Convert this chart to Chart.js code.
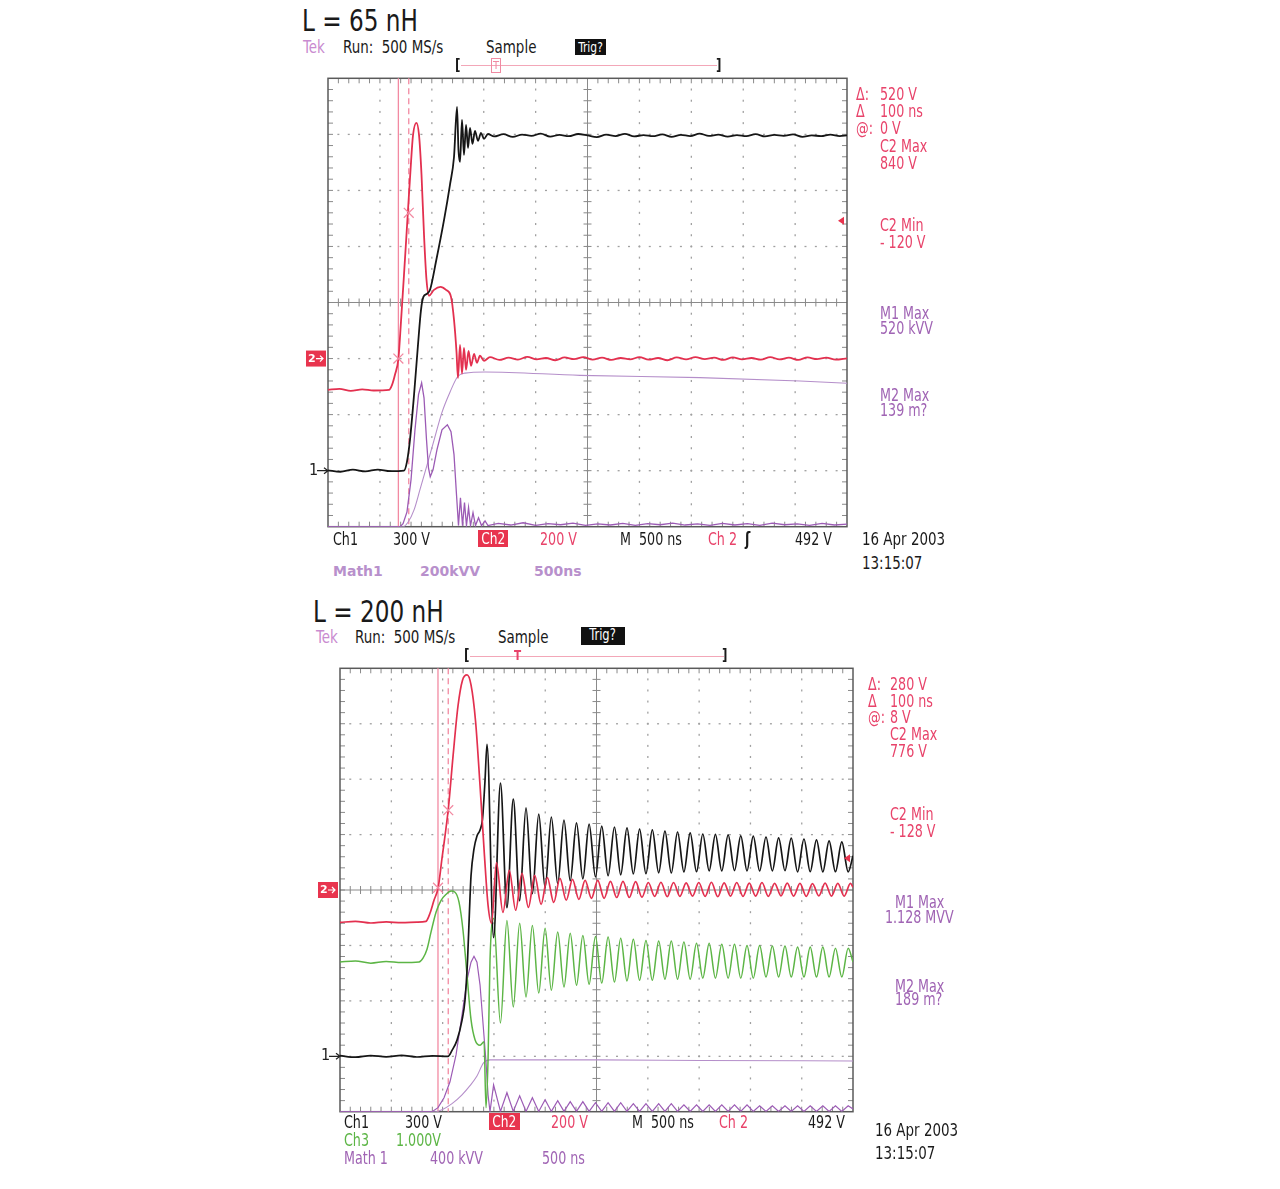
<!DOCTYPE html>
<html><head><meta charset="utf-8">
<script src="https://cdn.jsdelivr.net/npm/chart.js@4.4.0/dist/chart.umd.min.js"></script>
<style>
body{margin:0;background:#fff;width:1280px;height:1189px;position:relative;overflow:hidden;font-family:'Liberation Sans Narrow','DejaVu Sans Condensed',sans-serif;color:#1a1a1a;}
.t{position:absolute;white-space:pre;line-height:1;font-size:17px;transform:scaleX(0.83);transform-origin:0 0;}
.s18{font-size:18px}.s31{font-size:31px}
.r{color:#e8436a}.p{color:#a064b4}.g{color:#5cb545}.tek{color:#c98bd0}
.t.m{font-family:'DejaVu Sans',sans-serif;font-weight:bold;font-size:14px;color:#b890cc;transform:none}
.box{position:absolute;color:#fff;text-align:center;line-height:1;}
.box span{display:inline-block;transform:scaleX(0.85);}
canvas{position:absolute;}
</style></head><body>
<canvas id="c1" width="560" height="465" style="left:300px;top:70px"></canvas>
<canvas id="c2" width="560" height="460" style="left:312px;top:660px"></canvas>

<!-- top scope texts -->
<span class="t s31" style="left:302px;top:5px">L = 65 nH</span>
<span class="t s18 tek" style="left:303px;top:38px">Tek</span>
<span class="t s18" style="left:343px;top:38px">Run:  500 MS/s</span>
<span class="t s18" style="left:486px;top:38px">Sample</span>
<div class="box" style="left:575px;top:39px;width:31px;height:15px;background:#111;font-size:14px;padding-top:1px"><span>Trig?</span></div>
<span class="t" style="left:455px;top:57px;font-size:16px;font-weight:bold">[</span>
<div style="position:absolute;left:461px;top:65px;width:256px;height:1px;background:#f3a7b8"></div>
<span class="t" style="left:716px;top:57px;font-size:16px;font-weight:bold">]</span>
<div style="position:absolute;left:491px;top:58px;width:8px;height:13px;border:1px solid #f08aa2;color:#f08aa2;font-size:11px;text-align:center;line-height:13px">T</div>

<span class="t" style="left:333px;top:531px">Ch1</span>
<span class="t" style="left:393px;top:531px">300 V</span>
<div class="box" style="left:478px;top:530px;width:30px;height:16px;background:#e8344e;font-size:16px;padding-top:1px"><span>Ch2</span></div>
<span class="t r" style="left:540px;top:531px">200 V</span>
<span class="t" style="left:620px;top:531px">M  500 ns</span>
<span class="t r" style="left:708px;top:531px">Ch 2</span>
<span class="t" style="left:745px;top:531px;font-weight:bold">ʃ</span>
<span class="t" style="left:795px;top:531px">492 V</span>
<span class="t s18" style="left:862px;top:530px">16 Apr 2003</span>
<span class="t s18" style="left:862px;top:554px">13:15:07</span>
<span class="t m" style="left:333px;top:564px">Math1</span>
<span class="t m" style="left:420px;top:564px">200kVV</span>
<span class="t m" style="left:534px;top:564px">500ns</span>

<span class="t r" style="left:856px;top:86px">Δ:</span><span class="t r" style="left:880px;top:86px">520 V</span>
<span class="t r" style="left:856px;top:103px">Δ</span><span class="t r" style="left:880px;top:103px">100 ns</span>
<span class="t r" style="left:856px;top:120px">@:</span><span class="t r" style="left:880px;top:120px">0 V</span>
<span class="t r" style="left:880px;top:138px">C2 Max</span>
<span class="t r" style="left:880px;top:155px">840 V</span>
<span class="t r" style="left:880px;top:217px">C2 Min</span>
<span class="t r" style="left:880px;top:234px">- 120 V</span>
<span class="t p" style="left:880px;top:305px">M1 Max</span>
<span class="t p" style="left:880px;top:320px">520 kVV</span>
<span class="t p" style="left:880px;top:387px">M2 Max</span>
<span class="t p" style="left:880px;top:402px">139 m?</span>

<!-- bottom scope texts -->
<span class="t s31" style="left:313px;top:596px">L = 200 nH</span>
<span class="t s18 tek" style="left:316px;top:628px">Tek</span>
<span class="t s18" style="left:355px;top:628px">Run:  500 MS/s</span>
<span class="t s18" style="left:498px;top:628px">Sample</span>
<div class="box" style="left:581px;top:627px;width:44px;height:17px;background:#111;font-size:15px;padding-top:1px"><span>Trig?</span></div>
<span class="t" style="left:464px;top:647px;font-size:16px;font-weight:bold">[</span>
<div style="position:absolute;left:470px;top:656px;width:254px;height:1px;background:#f3a7b8"></div>
<span class="t" style="left:722px;top:647px;font-size:16px;font-weight:bold">]</span>
<span class="t r" style="left:514px;top:648px;font-size:14px;font-weight:bold">T</span>

<span class="t" style="left:344px;top:1114px">Ch1</span>
<span class="t" style="left:405px;top:1114px">300 V</span>
<div class="box" style="left:489px;top:1113px;width:31px;height:16px;background:#e8344e;font-size:16px;padding-top:1px"><span>Ch2</span></div>
<span class="t r" style="left:551px;top:1114px">200 V</span>
<span class="t" style="left:632px;top:1114px">M  500 ns</span>
<span class="t r" style="left:719px;top:1114px">Ch 2</span>
<span class="t" style="left:808px;top:1114px">492 V</span>
<span class="t g" style="left:344px;top:1132px">Ch3</span>
<span class="t g" style="left:396px;top:1132px">1.000V</span>
<span class="t p" style="left:344px;top:1150px">Math 1</span>
<span class="t p" style="left:430px;top:1150px">400 kVV</span>
<span class="t p" style="left:542px;top:1150px">500 ns</span>
<span class="t s18" style="left:875px;top:1121px">16 Apr 2003</span>
<span class="t s18" style="left:875px;top:1144px">13:15:07</span>

<span class="t r" style="left:868px;top:676px">Δ:</span><span class="t r" style="left:890px;top:676px">280 V</span>
<span class="t r" style="left:868px;top:693px">Δ</span><span class="t r" style="left:890px;top:693px">100 ns</span>
<span class="t r" style="left:868px;top:709px">@:</span><span class="t r" style="left:890px;top:709px">8 V</span>
<span class="t r" style="left:890px;top:726px">C2 Max</span>
<span class="t r" style="left:890px;top:743px">776 V</span>
<span class="t r" style="left:890px;top:806px">C2 Min</span>
<span class="t r" style="left:890px;top:823px">- 128 V</span>
<span class="t p" style="left:895px;top:894px">M1 Max</span>
<span class="t p" style="left:885px;top:909px">1.128 MVV</span>
<span class="t p" style="left:895px;top:978px">M2 Max</span>
<span class="t p" style="left:895px;top:991px">189 m?</span>

<script>
// ================= DATA (time in ns, 500 ns/div) =================
// ---- L = 65 nH ----
const topCh1Time = [0,120,240,360,480,600,732,761,790,829,867,896,920,954,983,1040,1118,1175,1214,1243,1257,1272,1291,1310,1330,1349,1368,1392,1416,1445,1474,1503,1541,
  1600,1690,1780,1870,1960,2050,2140,2230,2320,2410,2500,2590,2680,2770,2860,2950,3040,3130,3220,3310,3400,3490,3580,3670,3760,3850,3940,4030,4120,4210,4300,4390,4480,4570,4660,4750,4840,4930,5000];
const topCh1Volt = [2,-6,5,-4,6,-3,0,48,166,406,674,861,931,947,968,1118,1342,1530,1679,1947,1717,1653,1877,1690,1850,1727,1834,1749,1818,1765,1808,1776,1802,
  1789,1801,1786,1799,1792,1804,1788,1797,1790,1802,1794,1785,1798,1791,1803,1789,1796,1790,1800,1787,1797,1791,1804,1792,1798,1788,1796,1790,1801,1789,1797,1792,1800,1787,1795,1790,1799,1791,1795];

const topCh2Time = [0,110,220,330,440,588,617,645,679,703,732,769,795,819,852,877,901,925,949,973,1021,1084,1137,1185,1214,1238,1252,1272,1291,1310,1330,1354,1378,1407,1435,1464,1503,
  1560,1650,1740,1830,1920,2010,2100,2190,2280,2370,2460,2550,2640,2730,2820,2910,3000,3090,3180,3270,3360,3450,3540,3630,3720,3810,3900,3990,4080,4170,4260,4350,4440,4530,4620,4710,4800,4890,5000];
const topCh2Volt = [-112,-108,-115,-110,-114,-112,-94,-58,2,131,298,519,673,797,841,797,655,441,281,224,245,256,245,220,138,24,-69,49,-54,38,-40,27,-26,17,-15,10,-8,
  5,-5,3,-4,6,-3,2,-6,4,-2,5,-4,3,-5,2,-3,5,-4,2,-6,4,-3,5,-2,3,-5,4,-3,2,-4,5,-3,3,-5,4,-2,3,-4,1];

const topM1Time = [0,694,723,761,800,838,872,902,925,949,968,985,1012,1050,1098,1150,1185,1214,1238,1257,1276,1296,1315,1334,1354,1373,1397,1421,1450,1479,1513,1541,
  1640,1760,1880,2000,2120,2240,2360,2480,2600,2720,2840,2960,3080,3200,3320,3440,3560,3680,3800,3920,4040,4160,4280,4400,4520,4640,4760,4880,5000];
const topM1kVV = [0,0,11,53,168,346,471,513,460,310,210,178,203,275,346,364,339,257,114,4,103,4,86,4,68,4,50,4,32,4,21,4,
  12,6,14,5,11,7,13,5,10,6,12,5,11,7,13,6,10,5,12,6,11,5,13,7,10,5,12,6,9];

const topM2Time = [0,723,771,829,886,954,1021,1098,1175,1250,1320,1513,2428,3584,4547,5000];
const topM2Val  = [0,0,4,15,33,55,77,102,120,134,137,138,135,133,130,128];

const topCursorTime = [678, 778];
const topCursorVolt = [0, 520];
const topTrigLevel = [492];

// ---- L = 200 nH ----
const botCh1PreTime = [0,150,300,450,600,750,900,1053,1092,1140,1189,1218,1243,1262,1277,1306,1335,1365,1389,1413,1433];
const botCh1PreVolt = [3,-5,4,-3,5,-4,2,0,32,86,194,302,518,788,977,1122,1192,1225,1284,1489,1689];
const botRingTime = [1497,1564,1627,1689,1751,1813,1875,1937,1999,2060,2122,2183,2244,2305,2367,2428,2490,2551,2613,2675,2736,2797,2859,2920,2982,3044,3106,3167,3229,3290,3352,3413,3475,3536,3598,3659,3721,3783,3845,3906,3967,4028,4090,4152,4214,4275,4337,4398,4460,4522,4583,4644,4706,4767,4829,4891,4953,5000];
const botCh1RingVolt = [642,1479,804,1392,842,1344,880,1311,912,1295,934,1279,950,1263,960,1257,971,1246,977,1241,982,1236,987,1230,988,1225,993,1219,992,1214,998,1209,999,1203,1004,1201,1003,1198,1005,1193,1004,1192,1003,1187,1004,1182,1005,1181,998,1176,999,1171,998,1166,999,1160,998,1085];

const botCh2PreTime = [0,150,300,450,600,750,838,877,916,957,994,1056,1102,1150,1194,1238,1277,1321,1365,1408,1443,1477];
const botCh2PreVolt = [-117,-113,-119,-115,-118,-116,-113,-84,-37,9,114,294,484,664,757,776,740,610,376,124,-55,-120];
const botCh2RingTime = [1525,1588,1650,1712,1774,1836,1898,1960,2021,2083,2144,2205,2266,2328,2389,2451,2512,2574,2636,2697,2758,2820,2881,2943,3005,3067,3128,3190,3251,3313,3374,3436,3497,3559,3620,3682,3744,3806,3867,3928,3989,4051,4113,4175,4236,4298,4359,4421,4483,4544,4605,4667,4728,4790,4852,4914,4975,5000];
const botCh2RingVolt = [99,-81,71,-73,60,-63,53,-52,45,-45,42,-37,38,-34,35,-30,35,-30,31,-27,31,-27,30,-26,27,-23,28,-24,27,-23,26,-22,27,-23,28,-24,26,-22,27,-23,25,-22,27,-23,24,-21,25,-22,24,-23,23,-21,25,-22,24,-22,24,10];

const botCh3PreTime = [0,150,300,450,600,770,809,848,887,936,984,1033,1082,1121,1160,1199,1238,1277,1316,1365,1404,1423,1443,1462];
const botCh3PreVolt = [-1.30,-1.28,-1.32,-1.29,-1.31,-1.30,-1.23,-1.07,-0.76,-0.40,-0.19,-0.08,-0.02,-0.04,-0.22,-0.73,-1.54,-2.34,-2.70,-2.80,-2.74,-3.93,-3.06,-1.27];
const botCh3RingVolt = [-0.51,-2.40,-0.55,-2.11,-0.60,-1.93,-0.64,-1.86,-0.69,-1.81,-0.76,-1.75,-0.78,-1.72,-0.82,-1.70,-0.84,-1.68,-0.85,-1.66,-0.87,-1.64,-0.89,-1.63,-0.91,-1.63,-0.92,-1.61,-0.92,-1.61,-0.94,-1.61,-0.96,-1.59,-0.96,-1.59,-0.98,-1.59,-0.98,-1.59,-1.00,-1.59,-1.00,-1.57,-1.01,-1.57,-1.01,-1.57,-1.03,-1.57,-1.03,-1.57,-1.03,-1.57,-1.05,-1.57,-1.05,-1.30];

const botM1PreTime = [0,897,955,1014,1072,1131,1189,1238,1277,1306,1335,1365,1399,1423,1443,1462];
const botM1PreKVV = [0,0,29,101,216,410,698,950,1079,1122,1079,914,590,360,122,0];
const botM1RingKVV = [194,2,137,2,115,2,101,2,86,2,79,2,72,2,72,2,65,2,65,2,65,2,58,2,58,2,58,2,58,2,50,2,50,2,50,2,50,2,50,2,50,2,43,2,43,2,43,2,43,2,43,2,43,2,43,2,43,20];

const botM2Time = [0,926,994,1092,1189,1267,1335,1399,1462,1754,2534,3509,5000];
const botM2Val  = [0,0,7,29,61,94,129,176,187,187,187,185,183];

const botCursorTime = [955, 1055];
const botCursorVolt = [8, 288];
const botTrigLevel = [115];

// ================= RENDERING =================
const COL = {ch1:'#161616', ch2:'#e3304f', ch3:'#5cb545', m1:'#9c5bb5', m2:'#b58fca', cursor:'#f28aa2'};
const pts = (t, v) => t.map((x, i) => ({x, y: v[i]}));
function trace(data, axis, color, width, mono = true, order = 0) {
  return {type:'line', data, yAxisID: axis, borderColor: color, borderWidth: width, pointRadius: 0,
    fill: false, cubicInterpolationMode: mono ? 'monotone' : 'default', tension: 0, order};
}

const scopeDeco = {
  id: 'scopeDeco',
  beforeDatasetsDraw(chart, args, o) {
    const {ctx, chartArea: a} = chart;
    const xs = chart.scales.x, ys = chart.scales.div;
    ctx.save();
    ctx.fillStyle = '#a0a0a0';
    for (let i = 1; i < 10; i++) {
      if (i === 5) continue;
      const x = xs.getPixelForValue(i * 500);
      for (let j = 1; j < 40; j++) { const y = ys.getPixelForValue(j * 0.2); ctx.fillRect(x - 0.6, y - 1, 1.3, 2); }
    }
    for (let j = 1; j < 8; j++) {
      if (j === 4) continue;
      const y = ys.getPixelForValue(j);
      for (let i = 1; i < 50; i++) { const x = xs.getPixelForValue(i * 100); ctx.fillRect(x - 1, y - 0.6, 2, 1.3); }
    }
    const cx = xs.getPixelForValue(2500), cy = ys.getPixelForValue(4);
    ctx.strokeStyle = '#8a8a8a'; ctx.lineWidth = 1;
    ctx.beginPath();
    ctx.moveTo(a.left, cy); ctx.lineTo(a.right, cy); ctx.moveTo(cx, a.top); ctx.lineTo(cx, a.bottom);
    for (let i = 1; i < 50; i++) {
      const x = xs.getPixelForValue(i * 100);
      ctx.moveTo(x, cy - 4); ctx.lineTo(x, cy + 4);
      ctx.moveTo(x, a.top); ctx.lineTo(x, a.top + 5); ctx.moveTo(x, a.bottom); ctx.lineTo(x, a.bottom - 5);
    }
    for (let j = 1; j < 40; j++) {
      const y = ys.getPixelForValue(j * 0.2);
      ctx.moveTo(cx - 4, y); ctx.lineTo(cx + 4, y);
      ctx.moveTo(a.left, y); ctx.lineTo(a.left + 5, y); ctx.moveTo(a.right, y); ctx.lineTo(a.right - 5, y);
    }
    ctx.stroke();
    ctx.strokeStyle = '#5a5a5a'; ctx.lineWidth = 1.5;
    ctx.strokeRect(a.left, a.top, a.right - a.left, a.bottom - a.top);
    // cursors
    ctx.strokeStyle = COL.cursor; ctx.lineWidth = 1.3;
    o.cursors.forEach((t, k) => {
      const x = xs.getPixelForValue(t);
      ctx.setLineDash(k === 0 ? [] : [6, 4]);
      ctx.beginPath(); ctx.moveTo(x, a.top); ctx.lineTo(x, a.bottom); ctx.stroke();
    });
    ctx.setLineDash([]);
    ctx.restore();
  },
  afterDatasetsDraw(chart, args, o) {
    const {ctx, chartArea: a} = chart;
    ctx.save();
    // ground markers
    const y2 = chart.scales.ch2.getPixelForValue(0);
    ctx.fillStyle = '#e8344e'; ctx.fillRect(a.left - 22, y2 - 8, 20, 16);
    ctx.fillStyle = '#fff'; ctx.font = 'bold 11px "DejaVu Sans"'; ctx.textBaseline = 'middle';
    ctx.fillText('2', a.left - 20, y2 + 0.5);
    ctx.strokeStyle = '#fff'; ctx.lineWidth = 1.2;
    ctx.beginPath(); ctx.moveTo(a.left - 12, y2); ctx.lineTo(a.left - 5, y2); ctx.moveTo(a.left - 8, y2 - 3); ctx.lineTo(a.left - 5, y2); ctx.lineTo(a.left - 8, y2 + 3); ctx.stroke();
    const y1 = chart.scales.ch1.getPixelForValue(0);
    ctx.fillStyle = '#222'; ctx.font = '16px "Liberation Sans Narrow", "DejaVu Sans Condensed"';
    ctx.fillText('1', a.left - 19, y1);
    ctx.strokeStyle = '#222';
    ctx.beginPath(); ctx.moveTo(a.left - 11, y1); ctx.lineTo(a.left, y1); ctx.moveTo(a.left - 4, y1 - 3); ctx.lineTo(a.left, y1); ctx.lineTo(a.left - 4, y1 + 3); ctx.stroke();
    // trigger level marker
    ctx.fillStyle = '#e8344e';
    o.trig.forEach(v => {
      const y = chart.scales.ch2.getPixelForValue(v);
      ctx.beginPath(); ctx.moveTo(a.right - 9, y); ctx.lineTo(a.right - 3, y - 4); ctx.lineTo(a.right - 3, y + 4); ctx.closePath(); ctx.fill();
    });
    ctx.restore();
  }
};

function scope(id, pad, yScales, datasets, deco) {
  const scales = {
    x: {type: 'linear', min: 0, max: 5000, display: false},
    div: {type: 'linear', axis: 'y', min: 0, max: 8, display: false}
  };
  for (const k in yScales) scales[k] = {type: 'linear', axis: 'y', min: yScales[k][0], max: yScales[k][1], display: false};
  return new Chart(document.getElementById(id), {
    type: 'line',
    data: {datasets},
    options: {
      responsive: false, animation: false, events: [],
      layout: {padding: pad},
      scales,
      plugins: {legend: {display: false}, tooltip: {enabled: false}, scopeDeco: deco}
    },
    plugins: [scopeDeco]
  });
}

// top: Ch1 300 V/div (gnd 1 div), Ch2 200 V/div (gnd 3 div), M1 200 kVV/div, M2 50/div
scope('c1', {left: 28, top: 8, right: 13, bottom: 8},
  {ch1: [-300, 2100], ch2: [-600, 1000], m1: [0, 1600], m2: [0, 400]},
  [
    trace(pts(topCh1Time, topCh1Volt), 'ch1', COL.ch1, 1.8, true, 1),
    trace(pts(topCh2Time, topCh2Volt), 'ch2', COL.ch2, 1.8, true, 2),
    trace(pts(topM1Time, topM1kVV), 'm1', COL.m1, 1.3, false, 3),
    trace(pts(topM2Time, topM2Val), 'm2', COL.m2, 1.1, true, 4),
    {type: 'scatter', data: pts(topCursorTime, topCursorVolt), yAxisID: 'ch2', pointStyle: 'crossRot', pointRadius: 7,
      borderColor: COL.cursor, borderWidth: 1.3, order: 0}
  ],
  {cursors: topCursorTime, trig: topTrigLevel});

// bottom: Ch1 300 V/div (gnd 1 div), Ch2 200 V/div (gnd 4 div), Ch3 1 V/div (gnd 4 div), M1 400 kVV/div, M2 200/div
scope('c2', {left: 28, top: 7, right: 19, bottom: 8},
  {ch1: [-300, 2100], ch2: [-800, 800], ch3: [-4, 4], m1: [0, 3200], m2: [0, 1600]},
  [
    trace(pts(botCh1PreTime.concat(botRingTime), botCh1PreVolt.concat(botCh1RingVolt)), 'ch1', COL.ch1, 1.7, true, 2),
    trace(pts(botCh2PreTime.concat(botCh2RingTime), botCh2PreVolt.concat(botCh2RingVolt)), 'ch2', COL.ch2, 1.7, true, 1),
    trace(pts(botCh3PreTime.concat(botRingTime), botCh3PreVolt.concat(botCh3RingVolt)), 'ch3', COL.ch3, 1.5, true, 3),
    trace(pts(botM1PreTime.concat(botRingTime), botM1PreKVV.concat(botM1RingKVV)), 'm1', COL.m1, 1.2, false, 4),
    trace(pts(botM2Time, botM2Val), 'm2', COL.m2, 1.1, true, 5),
    {type: 'scatter', data: pts(botCursorTime, botCursorVolt), yAxisID: 'ch2', pointStyle: 'crossRot', pointRadius: 7,
      borderColor: COL.cursor, borderWidth: 1.3, order: 0}
  ],
  {cursors: botCursorTime, trig: botTrigLevel});
</script>
</body></html>
